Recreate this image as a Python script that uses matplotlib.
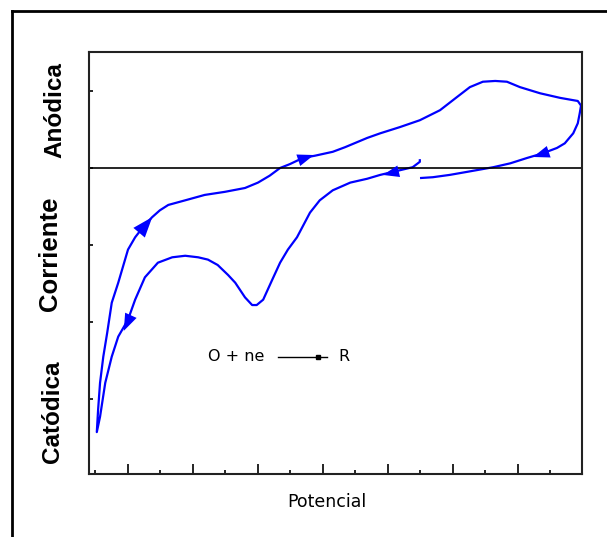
import math
import matplotlib
matplotlib.use("Agg")
import matplotlib.pyplot as plt
from matplotlib.lines import Line2D

# voltamograma ciclico: rama de reduccion (de derecha a izquierda)
E_red = [4.49, 4.49, 4.38, 4.18, 4.08, 3.88, 3.68, 3.42, 3.15, 2.95, 2.80, 2.60, 2.46, 2.34, 2.22,
         2.08, 1.98, 1.91, 1.80, 1.65, 1.54, 1.38, 1.23, 1.08, 0.88, 0.68, 0.46, 0.26, 0.11, 0.00,
         -0.15, -0.25, -0.35, -0.43, -0.48]
I_red = [0.10, 0.08, 0.01, -0.03, -0.05, -0.09, -0.14, -0.19, -0.29, -0.42, -0.58, -0.90, -1.06, -1.23, -1.45,
         -1.71, -1.78, -1.78, -1.68, -1.49, -1.39, -1.26, -1.19, -1.16, -1.14, -1.16, -1.23, -1.42, -1.71, -1.97,
         -2.19, -2.45, -2.79, -3.23, -3.43]

# rama de oxidacion (de izquierda a derecha y vuelta)
E_ox = [-0.46, -0.43, -0.38, -0.32, -0.25, -0.15, 0.00, 0.11, 0.23, 0.37, 0.49, 0.62, 0.88, 1.18, 1.49,
        1.80, 2.00, 2.18, 2.34, 2.49, 2.69, 2.88, 3.15, 3.34, 3.68, 3.88, 4.18, 4.49, 4.80, 5.06,
        5.26, 5.46, 5.65, 5.83, 6.03, 6.34, 6.65, 6.92, 6.97, 6.95, 6.92, 6.85, 6.72, 6.60, 6.38,
        6.14, 5.88, 5.62, 5.22, 4.95, 4.69, 4.51]
I_ox = [-3.14, -2.79, -2.45, -2.14, -1.75, -1.49, -1.06, -0.90, -0.77, -0.64, -0.55, -0.48, -0.42, -0.35, -0.31,
        -0.26, -0.19, -0.10, 0.00, 0.05, 0.13, 0.16, 0.21, 0.27, 0.39, 0.45, 0.53, 0.62, 0.75, 0.92,
        1.05, 1.12, 1.13, 1.12, 1.05, 0.97, 0.91, 0.87, 0.81, 0.71, 0.58, 0.45, 0.32, 0.26, 0.19,
        0.13, 0.06, 0.01, -0.05, -0.09, -0.12, -0.13]

# indices de los puntos donde van las flechas de direccion
flechas_red = [4, 29]
flechas_ox = [8, 20, 44]

# ticks
x_major = [0, 1, 2, 3, 4, 5, 6]
x_minor = [-0.5, 0.5, 1.5, 2.5, 3.5, 4.5, 5.5, 6.5]
y_ticks = [-3, -2, -1, 0, 1]

# reaccion O + ne -> R
reac_x = [2.31, 3.06]
reac_y = [-2.45, -2.45]
reac_punto = 2.92

azul = "#0000ff"

fig = plt.figure(figsize=(6.07, 5.37), dpi=100)
ax = fig.add_axes([89/607, 1-474/537, 493/607, 422/537])

E = E_red + E_ox
I = I_red + I_ox
ax.plot(E, I, color=azul, lw=1.6, solid_joinstyle="round")

ax.axhline(0, color="black", lw=1.2)

ax.set_xlim(-0.6, 6.985)
ax.set_ylim(-3.974, 1.506)
ax.set_xticks(x_major)
ax.set_xticks(x_minor, minor=True)
ax.set_yticks(y_ticks)
ax.tick_params(axis="x", which="major", direction="in", length=7, width=1.2, labelbottom=False)
ax.tick_params(axis="x", which="minor", direction="in", length=3, width=1.2)
ax.tick_params(axis="y", direction="in", length=3, width=1.2, labelleft=False)
for s in ax.spines.values():
    s.set_linewidth(1.5)
    s.set_color("#222222")

# flechas: punta girada segun la direccion del barrido (en pixeles)
def flecha(xs, ys, i):
    p0 = ax.transData.transform((xs[i-1], ys[i-1]))
    p1 = ax.transData.transform((xs[i+1], ys[i+1]))
    a = math.atan2(p1[1] - p0[1], p1[0] - p0[0])
    c, s = math.cos(a), math.sin(a)
    base = [(1.0, 0.0), (-0.5, 0.55), (-0.5, -0.55)]
    verts = [(x*c - y*s, x*s + y*c) for x, y in base]
    ax.plot([xs[i]], [ys[i]], marker=verts, ms=15, color=azul, mew=0)

for i in flechas_red:
    flecha(E_red, I_red, i)
for i in flechas_ox:
    flecha(E_ox, I_ox, i)

# reaccion
ax.text(1.23, -2.45, "O + ne", fontsize=11.5, va="center", ha="left", family="DejaVu Sans")
ax.plot(reac_x, reac_y, color="black", lw=1)
ax.plot([reac_punto], [reac_y[0]], marker="s", ms=3.5, color="black")
ax.text(3.23, -2.45, "R", fontsize=11.5, va="center", ha="left", family="DejaVu Sans")

# etiquetas de ejes
fuente = ["Liberation Sans Narrow", "Liberation Sans", "DejaVu Sans"]
fig.text(55/607, 1-110/537, "Anódica", rotation=90, ha="center", va="center",
         fontsize=17.5, fontweight="bold", family=fuente)
fig.text(50/607, 1-254/537, "Corriente", rotation=90, ha="center", va="center",
         fontsize=18.5, fontweight="bold", family=fuente)
fig.text(53/607, 1-412/537, "Catódica", rotation=90, ha="center", va="center",
         fontsize=17.5, fontweight="bold", family=fuente)
fig.text(327/607, 1-502/537, "Potencial", ha="center", va="center",
         fontsize=12.5, family="DejaVu Sans")

# marco exterior
fig.add_artist(Line2D([12/607, 1], [1-11/537, 1-11/537], color="black", lw=2))
fig.add_artist(Line2D([12/607, 12/607], [1-11/537, 0], color="black", lw=2))

fig.savefig("out.png", dpi=100)
